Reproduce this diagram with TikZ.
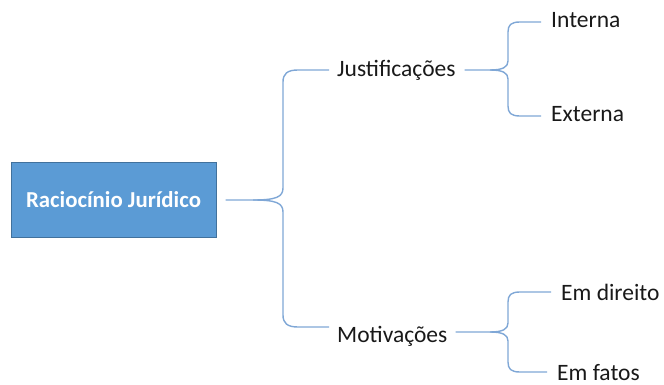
\documentclass[tikz,border=0pt]{standalone}
\usepackage{fontspec}
\setmainfont{Carlito}
\begin{document}
\begin{tikzpicture}[x=1pt,y=-1pt,
  lbl/.style={inner sep=0pt, anchor=base west, font=\fontsize{23.5}{25}\selectfont, text=black!90},
  rootbox/.style={draw=rootedge, fill=rootfill, line width=1pt, minimum width=205pt, minimum height=74pt,
    inner sep=0pt, text=white, font=\fontsize{22.8}{25}\selectfont\bfseries},
  link/.style={draw=linkblue, line width=1.4pt, line join=round}]
\definecolor{rootfill}{HTML}{5B9BD5}
\definecolor{rootedge}{HTML}{41719C}
\definecolor{linkblue}{HTML}{7FA7D6}
\useasboundingbox (0,0) rectangle (664,385);

% root box
\node[rootbox] (R) at (113.5,200) {Raciocínio Jurídico};

% first level
\node[lbl] (J) at (337,77) {Justificações};
\node[lbl] (M) at (337,342) {Motivações};

% second level
\node[lbl] (I) at (551,28) {Interna};
\node[lbl] (E) at (551,122) {Externa};
\node[lbl] (D) at (561,300) {Em direito};
\node[lbl] (F) at (557,380) {Em fatos};

% brace from the root
\coordinate (r0) at ([xshift=9pt]R.east);
\coordinate (j0) at ([xshift=-8pt]J.west |- 0,70);
\coordinate (m0) at ([xshift=-8pt]M.west |- 0,327);
\path[link] (r0) -- (253,200) .. controls (276,200) and (283,197) .. (283,188)
  -- (283,82) .. controls (283,74) and (287,70) .. (298,70) -- (j0);
\path[link] (253,200) .. controls (276,200) and (283,203) .. (283,212)
  -- (283,315) .. controls (283,323) and (287,327) .. (298,327) -- (m0);

% brace from Justificações
\coordinate (j1) at ([xshift=9pt]J.east |- 0,70);
\coordinate (i0) at ([xshift=-10pt]I.west |- 0,22);
\coordinate (e0) at ([xshift=-10pt]E.west |- 0,116);
\path[link] (j1) -- (490,70) .. controls (503,70) and (508,67) .. (508,61)
  -- (508,32) .. controls (508,25) and (511,22) .. (520,22) -- (i0);
\path[link] (490,70) .. controls (503,70) and (508,73) .. (508,79)
  -- (508,106) .. controls (508,113) and (511,116) .. (520,116) -- (e0);

% brace from Motivações
\coordinate (m1) at ([xshift=8pt]M.east |- 0,332);
\coordinate (d0) at ([xshift=-10pt]D.west |- 0,292);
\coordinate (f0) at ([xshift=-10pt]F.west |- 0,372);
\path[link] (m1) -- (490,332) .. controls (503,332) and (508,329) .. (508,323)
  -- (508,302) .. controls (508,295) and (511,292) .. (520,292) -- (d0);
\path[link] (490,332) .. controls (503,332) and (508,335) .. (508,341)
  -- (508,362) .. controls (508,369) and (511,372) .. (520,372) -- (f0);
\end{tikzpicture}
\end{document}
